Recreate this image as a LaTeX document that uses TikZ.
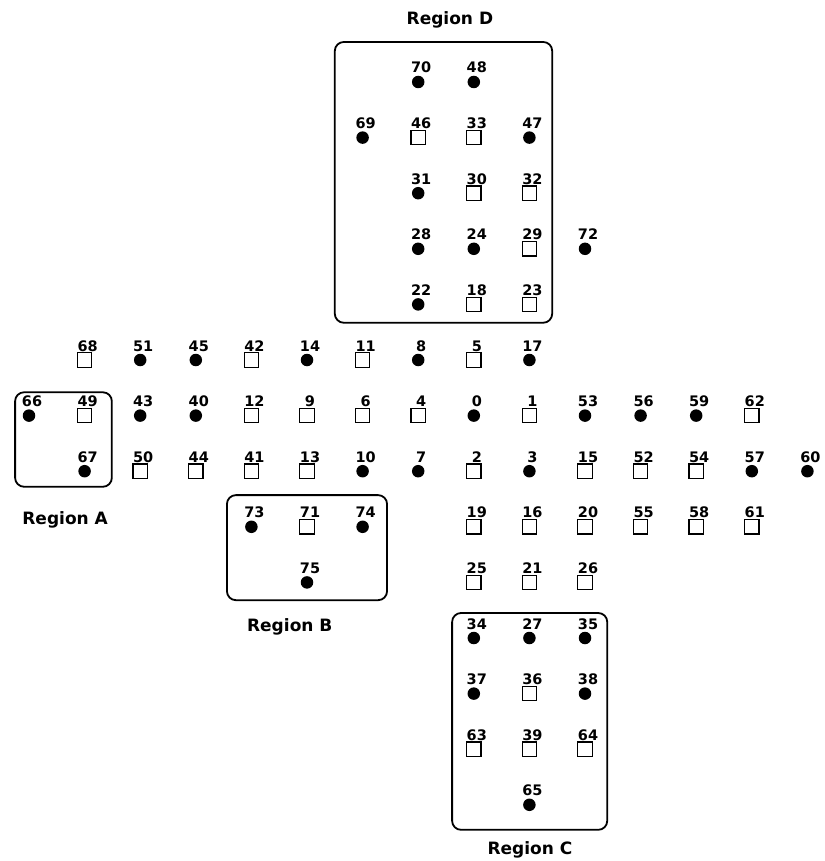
\documentclass[tikz,border=0pt]{standalone}
\usepackage{fontspec}
\setsansfont{DejaVu Sans}

\begin{document}
\begin{tikzpicture}[
  ptd/.style={circle, fill=black, inner sep=0pt, minimum size=12.5pt},
  pts/.style={rectangle, draw=black, line width=1.2pt, inner sep=0pt, minimum size=14.5pt},
  numtext/.style={anchor=base, inner sep=0pt, font=\sffamily\bfseries\fontsize{14.5}{15}\selectfont},
  region/.style={draw=black, line width=1.8pt, rounded corners=9pt},
  regtext/.style={font=\sffamily\bfseries\fontsize{17}{19}\selectfont}
]

  % --- 0. page size ---
  \useasboundingbox (0,0) rectangle (824pt,-861pt);

  \begin{scope}[shift={(29pt,-82pt)}, x=55.6pt, y=-55.6pt]

  % --- 1. points: column / row / number / kind (d = dot, s = square) ---
  \foreach \c/\r/\n/\k in {
      7/0/70/d, 8/0/48/d,
      6/1/69/d, 7/1/46/s, 8/1/33/s, 9/1/47/d,
      7/2/31/d, 8/2/30/s, 9/2/32/s,
      7/3/28/d, 8/3/24/d, 9/3/29/s, 10/3/72/d,
      7/4/22/d, 8/4/18/s, 9/4/23/s,
      1/5/68/s, 2/5/51/d, 3/5/45/d, 4/5/42/s, 5/5/14/d, 6/5/11/s, 7/5/8/d, 8/5/5/s, 9/5/17/d,
      0/6/66/d, 1/6/49/s, 2/6/43/d, 3/6/40/d, 4/6/12/s, 5/6/9/s, 6/6/6/s, 7/6/4/s,
      8/6/0/d, 9/6/1/s, 10/6/53/d, 11/6/56/d, 12/6/59/d, 13/6/62/s,
      1/7/67/d, 2/7/50/s, 3/7/44/s, 4/7/41/s, 5/7/13/s, 6/7/10/d, 7/7/7/d,
      8/7/2/s, 9/7/3/d, 10/7/15/s, 11/7/52/s, 12/7/54/s, 13/7/57/d, 14/7/60/d,
      4/8/73/d, 5/8/71/s, 6/8/74/d,
      8/8/19/s, 9/8/16/s, 10/8/20/s, 11/8/55/s, 12/8/58/s, 13/8/61/s,
      5/9/75/d, 8/9/25/s, 9/9/21/s, 10/9/26/s,
      8/10/34/d, 9/10/27/d, 10/10/35/d,
      8/11/37/d, 9/11/36/s, 10/11/38/d,
      8/12/63/s, 9/12/39/s, 10/12/64/s,
      9/13/65/d}
  {
    \node[pt\k] (p\n) at (\c,\r) {};
    \node[numtext] (t\n) at ([shift={(3pt,9pt)}]p\n.center) {\n};
  }

  % --- 2. regions ---
  \draw[region] (5.50,-0.72) rectangle (9.41,4.33);
  \node[regtext] (regD) at (7.57,-1.12) {Region D};

  \draw[region] (-0.25,5.58) rectangle (1.49,7.28);
  \node[regtext] (regA) at (0.65,7.88) {Region A};

  \draw[region] (3.56,7.43) rectangle (6.44,9.32);
  \node[regtext] (regB) at (4.69,9.80) {Region B};

  \draw[region] (7.61,9.55) rectangle (10.40,13.45);
  \node[regtext] (regC) at (9.01,13.81) {Region C};

  \end{scope}

\end{tikzpicture}
\end{document}
